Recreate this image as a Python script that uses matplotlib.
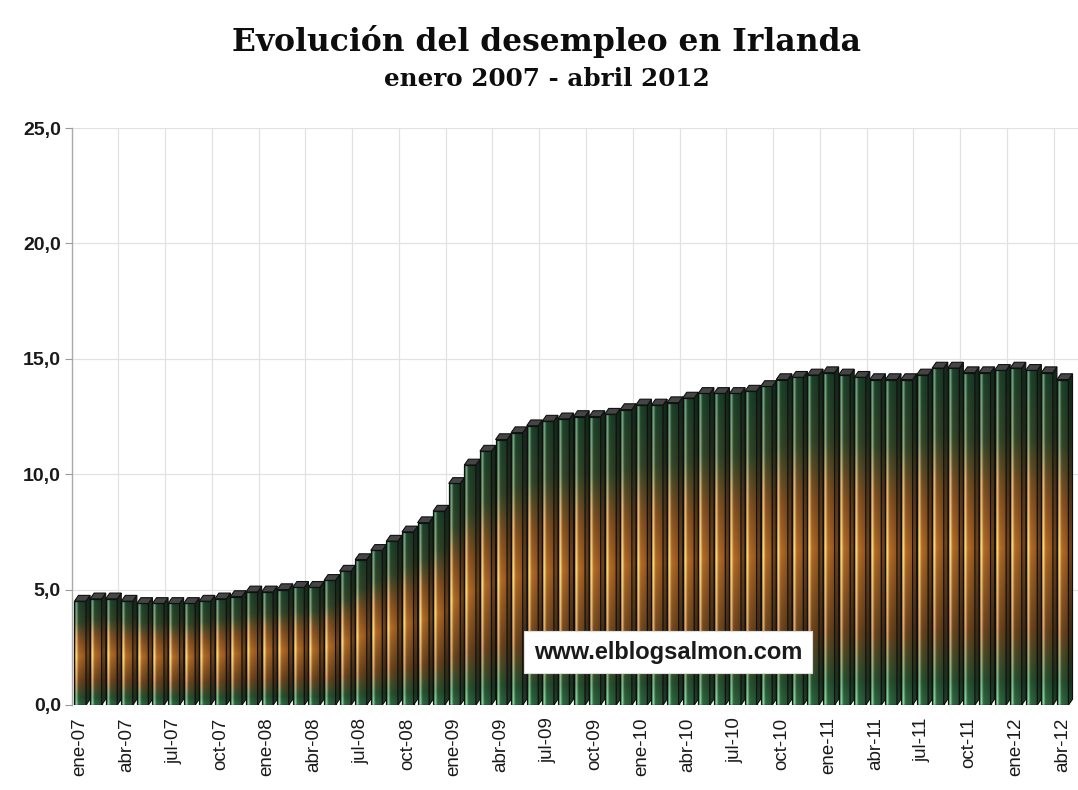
import numpy as np
import matplotlib
matplotlib.use("Agg")
import matplotlib.pyplot as plt
from matplotlib.patches import Polygon, Rectangle

# ---------------- data ----------------
values = [4.5, 4.6, 4.6, 4.5, 4.4, 4.4, 4.4, 4.4, 4.5, 4.6, 4.7, 4.9,
          4.9, 5.0, 5.1, 5.1, 5.4, 5.8, 6.3, 6.7, 7.1, 7.5, 7.9, 8.4,
          9.6, 10.4, 11.0, 11.5, 11.8, 12.1, 12.3, 12.4, 12.5, 12.5, 12.6, 12.8,
          13.0, 13.0, 13.1, 13.3, 13.5, 13.5, 13.5, 13.6, 13.8, 14.1, 14.2, 14.3,
          14.4, 14.3, 14.2, 14.1, 14.1, 14.1, 14.3, 14.6, 14.6, 14.4, 14.4, 14.5,
          14.6, 14.5, 14.4, 14.1]
tick_labels = ["ene-07", "abr-07", "jul-07", "oct-07",
               "ene-08", "abr-08", "jul-08", "oct-08",
               "ene-09", "abr-09", "jul-09", "oct-09",
               "ene-10", "abr-10", "jul-10", "oct-10",
               "ene-11", "abr-11", "jul-11", "oct-11",
               "ene-12", "abr-12"]
y_ticks = [0, 5, 10, 15, 20, 25]
y_tick_labels = ["0,0", "5,0", "10,0", "15,0", "20,0", "25,0"]
title = "Evolución del desempleo en Irlanda"
subtitle = "enero 2007 - abril 2012"
watermark = "www.elblogsalmon.com"

# ---------------- figure ----------------
W, H = 1078, 790
fig = plt.figure(figsize=(W / 100, H / 100), dpi=100)
fig.patch.set_facecolor("white")
ax = fig.add_axes([72 / W, 1 - 705 / H, 1 - 72 / W, (705 - 128) / H])
ax.set_facecolor("white")

# gradient images (same relative profile for every bar)
NV, NH = 256, 40
t = np.linspace(0, 1, NV)
stops_t = [0.0, 0.07, 0.22, 0.47, 0.62, 0.80, 1.0]
stops_c = np.array([(55, 118, 75), (45, 92, 55), (120, 78, 35), (205, 122, 45),
                    (155, 95, 40), (58, 80, 47), (32, 74, 48)]) / 255.0
base = np.stack([np.interp(t, stops_t, stops_c[:, k]) for k in range(3)], axis=1)
u = np.linspace(0, 1, NH)
light = np.clip(base * 1.35 + 0.33, 0, 1)
w_hl = 0.85 * np.exp(-((u - 0.2) / 0.1) ** 2)
shade = 1.0 - 0.3 * u
front_img = (base[:, None, :] * shade[None, :, None] * (1 - w_hl[None, :, None])
             + light[:, None, :] * w_hl[None, :, None])
front_img = np.clip(front_img, 0, 1)
side_img = np.clip(base[:, None, :] * 0.55 * np.ones((1, 8, 1)), 0, 1)

fw = 0.74   # front face width (data units)
dx = 0.26   # depth offset x
dy = 0.25   # depth offset y
x = np.arange(len(values))

for i, h in zip(x, values):
    x0 = i - 0.35
    x1 = x0 + fw
    z = 2 + i * 0.01
    ax.imshow(front_img, extent=(x0, x1, 0, h), origin="lower", aspect="auto",
              interpolation="bilinear", zorder=z)
    ax.add_patch(Rectangle((x0, 0), fw, h, fill=False, ec="#101010", lw=0.9, zorder=z + 0.001))
    side_poly = Polygon([(x1, 0), (x1 + dx, dy), (x1 + dx, h + dy), (x1, h)],
                        closed=True, fill=False, ec="#101010", lw=0.8, zorder=z + 0.002)
    ax.add_patch(side_poly)
    im = ax.imshow(side_img, extent=(x1, x1 + dx, 0, h + dy), origin="lower", aspect="auto",
                   interpolation="bilinear", zorder=z + 0.0015)
    im.set_clip_path(side_poly)
    ax.add_patch(Polygon([(x0, h), (x1, h), (x1 + dx, h + dy), (x0 + dx, h + dy)],
                         closed=True, fc="#454545", ec="#101010", lw=0.8, zorder=z + 0.003))

ax.set_xlim(-0.51, 64.0)
ax.set_ylim(0, 25)

for gx in np.arange(2.45, 64, 3):
    ax.axvline(gx, color="#e2e2e2", lw=0.9, zorder=1)
for gy in y_ticks[1:]:
    ax.axhline(gy, color="#e2e2e2", lw=0.9, zorder=1)

ax.set_yticks(y_ticks)
ax.set_yticklabels(y_tick_labels, fontsize=14, fontweight="bold",
                   family="Liberation Sans", color="#1a1a1a")
ax.tick_params(axis="y", length=5, color="#999999", pad=3)
ax.set_xticks(x[::3])
ax.set_xticklabels(tick_labels, rotation=90, fontsize=13.5, family="Liberation Sans",
                   color="#1a1a1a", va="top", ha="center")
ax.tick_params(axis="x", length=0, pad=9)
for s in ["top", "right", "bottom"]:
    ax.spines[s].set_visible(False)
ax.spines["left"].set_color("#aaaaaa")
ax.spines["left"].set_linewidth(1.0)
ax.spines["left"].set_zorder(1.5)

# titles (font size fitted to the reference text width)
renderer = fig.canvas.get_renderer()


def fitted_text(y_px, s, target_w, size0):
    txt = fig.text(547 / W, 1 - y_px / H, s, ha="center", va="center", fontsize=size0,
                   fontweight="bold", family="DejaVu Serif", color="#0d0d0d")
    w = txt.get_window_extent(renderer).width
    txt.set_fontsize(size0 * target_w / w)
    return txt


fitted_text(42, title, 630, 24)
fitted_text(79, subtitle, 327, 15)

fig.text(668 / W, 1 - 652 / H, watermark, ha="center", va="center", fontsize=17,
         fontweight="bold", family="Liberation Sans", color="#1a1a1a",
         bbox=dict(boxstyle="square,pad=0.4", fc="white", ec="#dddddd", lw=0.8))

fig.savefig("out.png", dpi=100, facecolor="white")
